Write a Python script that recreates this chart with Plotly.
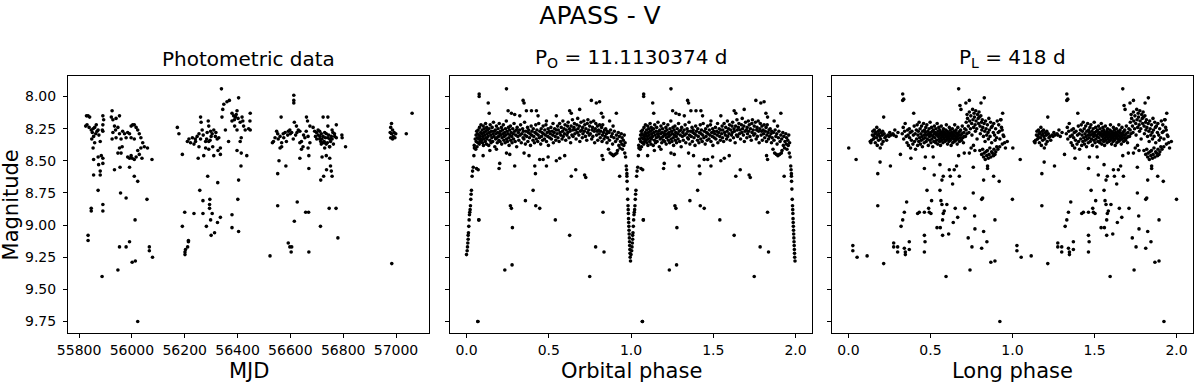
import numpy as np
import plotly.graph_objects as go
from plotly.subplots import make_subplots

# ---- photometric data: MJD vs V magnitude ----
mjd = [
    # first season
    55828, 55834, 55840, 55825, 55830, 55838, 55846, 55853, 55859, 55850,
    55855, 55848, 55863, 55868, 55865, 55872, 55875, 55859, 55853, 55890,
    55893, 55890, 55888, 55890, 55880, 55855, 55872, 55884, 55890, 55874,
    55890, 55855, 55880, 55880, 55872, 55890, 55890, 55846, 55846, 55834,
    55834, 55887,
    55925, 55922, 55928, 55940, 55953, 55934, 55938, 55947, 55928, 55925,
    55940, 55953, 55965, 55972, 55984, 55991, 55959, 55963, 55953, 55947,
    55959, 55978, 55997, 56003, 56009, 56016, 56022, 55997, 56009, 56028,
    56034, 56041, 56047, 56059, 56034, 56022, 56028, 56016, 56009, 56001,
    55991, 55984, 55997, 56038, 56076, 55934, 55955, 55991, 56009, 56022,
    55957, 55978, 56057, 56012, 55953, 55978, 55991, 56066, 56066, 56078,
    56001, 56013, 55947, 56022,
    # second season
    56172, 56178, 56191, 56210, 56216, 56222, 56229, 56235, 56241, 56247,
    56254, 56260, 56262, 56266, 56260, 56254, 56251, 56272, 56279, 56279,
    56289, 56291, 56298, 56304, 56310, 56316, 56323, 56306, 56291, 56329,
    56335, 56326, 56335, 56310, 56291, 56341, 56344, 56348, 56360, 56369,
    56404, 56339, 56354, 56366, 56379, 56385, 56392, 56398, 56379, 56389,
    56398, 56410, 56417, 56423, 56429, 56414, 56414, 56435, 56410, 56287,
    56325, 56257, 56269, 56295, 56294, 56294, 56304, 56200, 56235, 56269,
    56298, 56335, 56324, 56191, 56282, 56313, 56300, 56203, 56201, 56214,
    56214, 56211, 56201, 56379, 56379, 56404, 56401, 56404, 56413, 56398,
    56442, 56448, 56447, 56448, 56270, 56285, 56300, 56318, 56283, 56296,
    56240, 56395, 56388, 56402, 56420,
    # third season
    56523, 56532, 56536, 56542, 56548, 56552, 56554, 56561, 56565, 56567,
    56573, 56580, 56561, 56567, 56557, 56583, 56552, 56552, 56592, 56598,
    56605, 56611, 56615, 56623, 56630, 56636, 56642, 56648, 56636, 56642,
    56661, 56665, 56674, 56667, 56674, 56667, 56670, 56636, 56670, 56613,
    56613, 56613, 56686, 56692, 56699, 56705, 56711, 56717, 56724, 56730,
    56736, 56742, 56749, 56755, 56761, 56767, 56774, 56711, 56724, 56736,
    56749, 56730, 56717, 56742, 56724, 56742, 56774, 56795, 56796, 56809,
    56720, 56736, 56749, 56752, 56755, 56737, 56726, 56715, 56758, 56626,
    56658, 56669, 56747, 56773, 56615, 56714, 56780, 56592, 56598, 56603,
    56670, 56605, 56705, 56712, 56720, 56728, 56733, 56740, 56745, 56752,
    56758, 56763, 56768, 56748, 56730, 56715, 56758, 56700, 56695, 56575,
    56585, 56590, 56600, 56620, 56625, 56650, 56655, 56660,
    # fourth season
    56983, 56980, 56987, 56978, 56993, 56983, 56990, 56980, 56996, 56987,
    56999, 57039, 57061, 56984,
]
mjd_mag = [
    8.15, 8.15, 8.16, 8.23, 8.22, 8.24, 8.26, 8.25, 8.24, 8.28,
    8.31, 8.33, 8.29, 8.27, 8.22, 8.26, 8.30, 8.36, 8.40, 8.15,
    8.18, 8.22, 8.26, 8.27, 8.35, 8.49, 8.47, 8.46, 8.48, 8.53,
    8.52, 8.61, 8.58, 8.61, 8.73, 8.84, 8.89, 8.87, 8.89, 9.08,
    9.12, 9.40,
    8.11, 8.16, 8.18, 8.17, 8.15, 8.23, 8.26, 8.24, 8.28, 8.33,
    8.32, 8.29, 8.27, 8.29, 8.28, 8.29, 8.33, 8.39, 8.40, 8.44,
    8.44, 8.32, 8.23, 8.22, 8.22, 8.24, 8.26, 8.32, 8.33, 8.29,
    8.32, 8.36, 8.39, 8.40, 8.40, 8.42, 8.45, 8.47, 8.49, 8.48,
    8.48, 8.47, 8.46, 8.48, 8.49, 8.57, 8.55, 8.55, 8.62, 8.66,
    8.75, 8.79, 8.80, 8.96, 9.17, 9.17, 9.13, 9.17, 9.20, 9.25,
    9.29, 9.28, 9.35, 9.75,
    8.24, 8.29, 8.45, 8.35, 8.33, 8.36, 8.32, 8.37, 8.35, 8.31,
    8.29, 8.16, 8.20, 8.26, 8.33, 8.39, 8.48, 8.46, 8.35, 8.40,
    8.19, 8.23, 8.27, 8.29, 8.26, 8.31, 8.33, 8.39, 8.35, 8.32,
    8.40, 8.42, 8.45, 8.46, 8.41, 8.16, 8.10, 8.06, 8.04, 8.03,
    8.01, 7.94, 8.26, 8.35, 8.13, 8.15, 8.16, 8.11, 8.19, 8.23,
    8.26, 8.20, 8.16, 8.23, 8.26, 8.32, 8.44, 8.46, 8.35, 8.62,
    8.67, 8.73, 8.81, 8.80, 8.84, 8.87, 8.91, 8.90, 8.91, 8.91,
    8.96, 8.94, 8.98, 9.01, 9.01, 9.06, 9.08, 9.19, 9.21, 9.13,
    9.12, 9.17, 9.23, 8.92, 9.02, 9.05, 8.80, 8.65, 8.54, 8.42,
    8.25, 8.13, 8.19, 8.26, 8.30, 8.28, 8.31, 8.28, 8.33, 8.34,
    8.33, 8.14, 8.18, 8.17, 8.19,
    9.24, 8.36, 8.35, 8.32, 8.27, 8.29, 8.33, 8.31, 8.16, 8.36,
    8.29, 8.28, 8.40, 8.39, 8.50, 8.54, 8.60, 8.85, 8.27, 8.26,
    8.28, 8.33, 8.20, 8.23, 8.26, 8.27, 8.35, 8.39, 8.36, 8.41,
    8.16, 8.19, 8.23, 8.31, 8.36, 8.40, 8.46, 8.48, 8.56, 7.99,
    8.03, 8.05, 8.24, 8.27, 8.28, 8.26, 8.27, 8.29, 8.31, 8.28,
    8.29, 8.32, 8.33, 8.31, 8.28, 8.29, 8.32, 8.33, 8.36, 8.37,
    8.39, 8.40, 8.37, 8.23, 8.16, 8.16, 8.22, 8.30, 8.32, 8.39,
    8.47, 8.46, 8.48, 8.54, 8.58, 8.57, 8.62, 8.65, 8.62, 8.82,
    8.90, 8.90, 8.87, 8.87, 8.97, 9.01, 9.10, 9.14, 9.17, 9.21,
    9.21, 9.17, 8.30, 8.31, 8.33, 8.35, 8.32, 8.36, 8.30, 8.35,
    8.33, 8.37, 8.31, 8.39, 8.36, 8.35, 8.26, 8.33, 8.31, 8.32,
    8.35, 8.30, 8.29, 8.30, 8.28, 8.30, 8.32, 8.27,
    8.21, 8.24, 8.26, 8.28, 8.28, 8.29, 8.31, 8.32, 8.32, 8.33,
    8.29, 8.29, 8.13, 9.30,
]

# ---- folded on the orbital period (one cycle, plotted twice) ----
orb_phase = [
    # ingress / egress of the eclipse
    0.000, 0.004, 0.006, 0.008, 0.010, 0.010, 0.012, 0.014, 0.016, 0.018,
    0.020, 0.022, 0.024, 0.026, 0.028, 0.030, 0.034, 0.037, 0.041, 0.045,
    0.048, 0.061, 0.071, 0.075, 0.069, 0.077, 0.077,
    0.971, 0.973, 0.975, 0.975, 0.976, 0.978, 0.980, 0.982, 0.983, 0.984,
    0.985, 0.986, 0.987, 0.988, 0.989, 0.990, 0.991, 0.992, 0.993, 0.994,
    0.995, 0.997,
    # out of eclipse
    0.047, 0.053, 0.056, 0.058, 0.059, 0.062, 0.064, 0.066, 0.067, 0.069,
    0.071, 0.074, 0.076, 0.078, 0.079, 0.082, 0.083, 0.086, 0.087, 0.088,
    0.091, 0.093, 0.095, 0.097, 0.099, 0.102, 0.104, 0.106, 0.103, 0.108,
    0.111, 0.114, 0.116, 0.118, 0.117, 0.121, 0.123, 0.126, 0.124, 0.128,
    0.131, 0.135, 0.137, 0.139, 0.142, 0.144, 0.147, 0.149, 0.152, 0.154,
    0.156, 0.159, 0.162, 0.164, 0.167, 0.169, 0.172, 0.175, 0.177, 0.180,
    0.182, 0.184, 0.187, 0.189, 0.192, 0.195, 0.197, 0.199, 0.202, 0.204,
    0.207, 0.209, 0.212, 0.214, 0.216, 0.219, 0.222, 0.224, 0.227, 0.229,
    0.232, 0.235, 0.237, 0.239, 0.242, 0.244, 0.247, 0.249, 0.252, 0.255,
    0.257, 0.259, 0.262, 0.264, 0.267, 0.269, 0.272, 0.275, 0.277, 0.281,
    0.284, 0.286, 0.289, 0.293, 0.296, 0.299, 0.303, 0.305, 0.308, 0.312,
    0.315, 0.318, 0.323, 0.326, 0.329, 0.333, 0.336, 0.341, 0.344, 0.346,
    0.349, 0.353, 0.355, 0.358, 0.362, 0.366, 0.371, 0.373, 0.376, 0.378,
    0.383, 0.386, 0.389, 0.393, 0.395, 0.398, 0.404, 0.406, 0.409, 0.413,
    0.416, 0.421, 0.424, 0.426, 0.428, 0.433, 0.436, 0.439, 0.443, 0.446,
    0.451, 0.454, 0.456, 0.459, 0.463, 0.466, 0.468, 0.474, 0.476, 0.479,
    0.483, 0.486, 0.491, 0.494, 0.496, 0.498, 0.503, 0.506, 0.509, 0.513,
    0.516, 0.521, 0.524, 0.526, 0.528, 0.533, 0.536, 0.539, 0.543, 0.546,
    0.551, 0.554, 0.556, 0.558, 0.563, 0.566, 0.569, 0.573, 0.576, 0.581,
    0.584, 0.586, 0.588, 0.593, 0.596, 0.599, 0.603, 0.606, 0.611, 0.614,
    0.616, 0.618, 0.623, 0.626, 0.629, 0.633, 0.636, 0.641, 0.644, 0.646,
    0.648, 0.653, 0.656, 0.659, 0.663, 0.666, 0.671, 0.674, 0.676, 0.678,
    0.683, 0.686, 0.689, 0.693, 0.696, 0.701, 0.704, 0.706, 0.708, 0.713,
    0.716, 0.719, 0.723, 0.726, 0.731, 0.734, 0.736, 0.738, 0.743, 0.746,
    0.749, 0.753, 0.756, 0.761, 0.764, 0.766, 0.768, 0.773, 0.776, 0.779,
    0.783, 0.786, 0.791, 0.794, 0.796, 0.798, 0.803, 0.806, 0.809, 0.813,
    0.816, 0.821, 0.824, 0.826, 0.828, 0.833, 0.836, 0.839, 0.843, 0.846,
    0.851, 0.854, 0.856, 0.858, 0.863, 0.866, 0.869, 0.873, 0.876, 0.881,
    0.884, 0.886, 0.888, 0.893, 0.896, 0.899, 0.903, 0.906, 0.911, 0.914,
    0.916, 0.918, 0.923, 0.926, 0.929, 0.933, 0.936, 0.941, 0.944, 0.946,
    0.948, 0.953, 0.956, 0.959, 0.962, 0.964, 0.967,
    # outliers
    0.243, 0.132, 0.138, 0.344, 0.350, 0.253, 0.273, 0.293, 0.324, 0.364,
    0.395, 0.425, 0.435, 0.486, 0.546, 0.627, 0.637, 0.688, 0.759, 0.789,
    0.809, 0.820, 0.830, 0.870, 0.911, 0.891,
    0.101, 0.142, 0.182, 0.202, 0.198, 0.243, 0.263, 0.293, 0.350, 0.380,
    0.415, 0.419, 0.445, 0.466, 0.486, 0.496, 0.546, 0.567, 0.597, 0.637,
    0.664, 0.725, 0.718, 0.830, 0.824, 0.931, 0.405, 0.358, 0.421, 0.445,
    0.267, 0.273, 0.540, 0.279, 0.627, 0.830, 0.785, 0.836, 0.233, 0.277,
    0.749, 0.069, 0.075,
]
orb_mag = [
    9.23, 9.20, 9.17, 9.14, 9.11, 9.08, 9.06, 9.01, 8.96, 8.92,
    8.90, 8.88, 8.85, 8.80, 8.76, 8.73, 8.62, 8.58, 8.55, 8.46,
    8.40, 8.56, 8.57, 8.96, 9.75, 7.98, 8.00,
    8.54, 8.57, 8.60, 8.62, 8.66, 8.72, 8.80, 8.85, 8.88, 8.91,
    8.95, 8.98, 9.01, 9.04, 9.07, 9.10, 9.13, 9.16, 9.19, 9.22,
    9.25, 9.28,
    8.38, 8.33, 8.41, 8.30, 8.35, 8.27, 8.39, 8.32, 8.29, 8.36,
    8.26, 8.33, 8.30, 8.37, 8.24, 8.31, 8.35, 8.28, 8.33, 8.22,
    8.34, 8.29, 8.26, 8.36, 8.31, 8.23, 8.33, 8.28, 8.38, 8.25,
    8.30, 8.35, 8.21, 8.32, 8.27, 8.37, 8.24, 8.29, 8.33, 8.26,
    8.31, 8.38, 8.25, 8.28, 8.34, 8.22, 8.30, 8.36, 8.27, 8.32,
    8.24, 8.35, 8.29, 8.20, 8.31, 8.27, 8.39, 8.26, 8.33, 8.29,
    8.23, 8.32, 8.36, 8.28, 8.25, 8.31, 8.34, 8.21, 8.29, 8.35,
    8.27, 8.30, 8.24, 8.37, 8.32, 8.26, 8.29, 8.22, 8.34, 8.31,
    8.28, 8.36, 8.25, 8.30, 8.19, 8.33, 8.27, 8.35, 8.29, 8.24,
    8.32, 8.38, 8.26, 8.30, 8.23, 8.34, 8.28, 8.31, 8.36, 8.25,
    8.29, 8.33, 8.21, 8.27, 8.35, 8.30, 8.26, 8.39, 8.24, 8.31,
    8.28, 8.34, 8.26, 8.30, 8.22, 8.36, 8.29, 8.25, 8.32, 8.27,
    8.33, 8.20, 8.30, 8.37, 8.27, 8.31, 8.24, 8.35, 8.28, 8.26,
    8.32, 8.29, 8.38, 8.23, 8.30, 8.27, 8.34, 8.25, 8.31, 8.36,
    8.28, 8.22, 8.33, 8.29, 8.26, 8.35, 8.30, 8.21, 8.32, 8.27,
    8.37, 8.25, 8.31, 8.28, 8.34, 8.23, 8.29, 8.33, 8.26, 8.30,
    8.22, 8.35, 8.28, 8.31, 8.25, 8.38, 8.27, 8.32, 8.29, 8.24,
    8.33, 8.27, 8.30, 8.21, 8.36, 8.28, 8.25, 8.31, 8.34, 8.26,
    8.29, 8.23, 8.32, 8.26, 8.35, 8.21, 8.28, 8.30, 8.24, 8.33,
    8.27, 8.19, 8.31, 8.25, 8.29, 8.22, 8.34, 8.26, 8.30, 8.23,
    8.28, 8.20, 8.32, 8.25, 8.27, 8.36, 8.23, 8.30, 8.18, 8.26,
    8.31, 8.24, 8.21, 8.29, 8.26, 8.33, 8.22, 8.28, 8.17, 8.25,
    8.30, 8.23, 8.35, 8.27, 8.20, 8.26, 8.32, 8.24, 8.29, 8.19,
    8.27, 8.22, 8.31, 8.25, 8.34, 8.21, 8.28, 8.18, 8.26, 8.30,
    8.23, 8.29, 8.20, 8.33, 8.26, 8.24, 8.31, 8.19, 8.27, 8.36,
    8.25, 8.21, 8.30, 8.27, 8.23, 8.34, 8.26, 8.29, 8.22, 8.32,
    8.27, 8.24, 8.35, 8.30, 8.22, 8.28, 8.33, 8.26, 8.31, 8.25,
    8.29, 8.36, 8.27, 8.32, 8.41, 8.28, 8.34, 8.44, 8.26, 8.31,
    8.45, 8.29, 8.37, 8.46, 8.32, 8.27, 8.45, 8.35, 8.30, 8.44,
    8.33, 8.42, 8.28, 8.38, 8.31, 8.40, 8.35, 8.29, 8.37, 8.32,
    8.41, 8.34, 8.38, 8.30, 8.44, 8.36, 8.47,
    7.94, 8.05, 8.13, 8.03, 8.05, 8.11, 8.13, 8.14, 8.15, 8.11,
    8.11, 8.11, 8.15, 8.19, 8.15, 8.11, 8.13, 8.10, 8.03, 8.05,
    8.04, 8.13, 8.16, 8.19, 8.13, 8.23,
    8.46, 8.42, 8.41, 8.52, 8.56, 8.44, 8.45, 8.54, 8.44, 8.46,
    8.54, 8.60, 8.49, 8.49, 8.54, 8.47, 8.50, 8.48, 8.46, 8.62,
    8.57, 8.63, 8.61, 8.49, 8.46, 8.62, 8.73, 8.81, 8.85, 8.87,
    8.85, 8.87, 8.96, 9.02, 9.08, 8.90, 9.17, 9.21, 9.35, 9.31,
    9.40, 9.75, 8.96,
]

# ---- folded on the long period (one cycle, plotted twice) ----
long_phase = [
    # scattered points
    0.002, 0.047, 0.027, 0.027, 0.053, 0.114, 0.215, 0.179, 0.179, 0.193,
    0.256, 0.317, 0.331, 0.337, 0.331, 0.215, 0.355, 0.341, 0.331, 0.321,
    0.276, 0.276, 0.300, 0.300, 0.341, 0.347, 0.347, 0.371, 0.371, 0.381,
    0.398, 0.422, 0.432, 0.463, 0.463, 0.467, 0.463, 0.463, 0.469, 0.479,
    0.489, 0.493, 0.503, 0.507, 0.517, 0.523, 0.540, 0.560, 0.558, 0.564,
    0.570, 0.574, 0.578, 0.574, 0.570, 0.578, 0.558, 0.584, 0.600, 0.595,
    0.611, 0.615, 0.621, 0.635, 0.645, 0.639, 0.651, 0.659, 0.666, 0.676,
    0.672, 0.706, 0.710, 0.730, 0.737, 0.741, 0.753, 0.761, 0.761, 0.769,
    0.771, 0.812, 0.824, 0.818, 0.824, 0.812, 0.844, 0.848, 0.848, 0.868,
    0.893, 0.893, 0.885, 0.919, 0.923, 0.9995,
    0.672, 0.680, 0.686, 0.716, 0.737, 0.808, 0.828, 0.940, 0.930,
    # first clump
    0.133, 0.137, 0.141, 0.146, 0.149, 0.153, 0.156, 0.158, 0.162, 0.164,
    0.167, 0.171, 0.173, 0.176, 0.178, 0.181, 0.184, 0.186, 0.189, 0.192,
    0.194, 0.197, 0.201, 0.204, 0.207, 0.209, 0.212, 0.218, 0.222, 0.228,
    0.233, 0.241, 0.247, 0.252, 0.259, 0.271, 0.276, 0.283, 0.291, 0.302,
    # main clump
    0.328, 0.334, 0.337, 0.343, 0.346, 0.352, 0.357, 0.361, 0.364, 0.366,
    0.371, 0.373, 0.377, 0.379, 0.384, 0.387, 0.393, 0.396, 0.401, 0.403,
    0.407, 0.409, 0.414, 0.416, 0.419, 0.422, 0.424, 0.426, 0.429, 0.431,
    0.434, 0.437, 0.439, 0.442, 0.444, 0.446, 0.448, 0.451, 0.453, 0.456,
    0.458, 0.461, 0.462, 0.464, 0.467, 0.469, 0.472, 0.474, 0.476, 0.478,
    0.481, 0.484, 0.487, 0.489, 0.492, 0.494, 0.496, 0.498, 0.501, 0.503,
    0.505, 0.507, 0.509, 0.512, 0.514, 0.516, 0.518, 0.521, 0.522, 0.524,
    0.527, 0.529, 0.532, 0.534, 0.536, 0.538, 0.541, 0.542, 0.544, 0.546,
    0.548, 0.551, 0.553, 0.555, 0.556, 0.557, 0.559, 0.561, 0.562, 0.564,
    0.566, 0.568, 0.571, 0.573, 0.575, 0.576, 0.577, 0.579, 0.581, 0.582,
    0.584, 0.586, 0.588, 0.591, 0.593, 0.595, 0.596, 0.597, 0.599, 0.601,
    0.602, 0.604, 0.606, 0.608, 0.611, 0.613, 0.615, 0.616, 0.617, 0.619,
    0.621, 0.622, 0.624, 0.626, 0.628, 0.631, 0.633, 0.635, 0.636, 0.638,
    0.641, 0.643, 0.645, 0.646, 0.648, 0.651, 0.653, 0.655, 0.656, 0.658,
    0.661, 0.663, 0.665, 0.667, 0.669, 0.672, 0.674, 0.677, 0.679, 0.682,
    0.684, 0.687, 0.689, 0.692, 0.694, 0.697, 0.701, 0.703, 0.707, 0.709,
    0.713, 0.717, 0.722,
    # bright wing
    0.718, 0.723, 0.726, 0.731, 0.734, 0.737, 0.739, 0.744, 0.746, 0.751,
    0.753, 0.757, 0.759, 0.763, 0.766, 0.768, 0.772, 0.774, 0.776, 0.778,
    0.782, 0.784, 0.787, 0.791, 0.793, 0.796, 0.798, 0.802, 0.804, 0.807,
    0.811, 0.813, 0.816, 0.819, 0.823, 0.827, 0.831, 0.833, 0.836, 0.839,
    0.843, 0.847, 0.851, 0.853, 0.856, 0.859, 0.863, 0.867, 0.871, 0.873,
    0.877, 0.883, 0.886, 0.891, 0.894, 0.897, 0.903, 0.907, 0.913, 0.916,
    0.921, 0.923, 0.927, 0.933, 0.937, 0.943, 0.947, 0.952,
    # faint wing
    0.801, 0.812, 0.818, 0.824, 0.827, 0.834, 0.838, 0.843, 0.847, 0.853,
    0.857, 0.862, 0.868, 0.873, 0.877, 0.884, 0.887, 0.893, 0.898, 0.904,
    0.911, 0.922, 0.938, 0.957, 0.968, 0.762, 0.771, 0.748,
]
long_mag = [
    8.40, 8.49, 9.16, 9.20, 9.25, 9.24, 9.30, 8.85, 8.60, 8.51,
    8.54, 8.45, 8.03, 8.02, 7.98, 8.16, 8.82, 8.90, 8.96, 9.01,
    9.14, 9.17, 9.17, 9.21, 9.18, 9.21, 9.23, 9.13, 9.19, 8.48,
    8.13, 8.91, 8.90, 8.90, 9.08, 9.13, 9.21, 8.56, 8.47, 8.73,
    8.87, 8.90, 8.91, 8.81, 8.47, 8.61, 9.02, 9.02, 8.73, 8.81,
    8.84, 8.96, 8.91, 9.08, 8.65, 8.62, 8.53, 8.89, 8.84, 9.40,
    9.07, 8.57, 8.62, 8.68, 8.57, 8.98, 8.87, 8.54, 8.94, 8.62,
    8.46, 8.44, 8.87, 9.10, 8.44, 9.35, 9.17, 8.75, 8.55, 8.93,
    9.03, 8.80, 8.65, 8.79, 9.05, 9.18, 9.13, 8.54, 8.56, 9.29,
    9.28, 8.96, 8.62, 8.66, 9.75, 8.80,
    7.94, 8.07, 8.10, 8.05, 8.03, 8.05, 8.01, 8.13, 8.18,
    8.35, 8.36, 8.34, 8.30, 8.27, 8.33, 8.31, 8.26, 8.29, 8.36,
    8.28, 8.32, 8.24, 8.38, 8.30, 8.27, 8.34, 8.29, 8.26, 8.31,
    8.40, 8.33, 8.28, 8.37, 8.30, 8.27, 8.35, 8.29, 8.32, 8.31,
    8.34, 8.30, 8.31, 8.28, 8.30, 8.29, 8.30, 8.26, 8.31, 8.28,
    8.29, 8.24, 8.33, 8.27, 8.21, 8.31, 8.36, 8.26, 8.30, 8.38,
    8.25, 8.32, 8.28, 8.40, 8.34, 8.27, 8.37, 8.30, 8.23, 8.35,
    8.29, 8.41, 8.26, 8.33, 8.22, 8.38, 8.30, 8.27, 8.35, 8.20,
    8.32, 8.25, 8.37, 8.29, 8.34, 8.23, 8.31, 8.39, 8.27, 8.33,
    8.21, 8.30, 8.36, 8.26, 8.32, 8.28, 8.24, 8.35, 8.30, 8.22,
    8.33, 8.27, 8.38, 8.29, 8.25, 8.31, 8.34, 8.20, 8.28, 8.36,
    8.30, 8.24, 8.33, 8.27, 8.39, 8.31, 8.26, 8.35, 8.29, 8.23,
    8.32, 8.28, 8.36, 8.25, 8.30, 8.34, 8.21, 8.29, 8.37, 8.27,
    8.31, 8.24, 8.33, 8.29, 8.35, 8.26, 8.30, 8.38, 8.28, 8.32,
    8.23, 8.34, 8.29, 8.31, 8.27, 8.36, 8.30, 8.25, 8.33, 8.29,
    8.32, 8.28, 8.35, 8.30, 8.26, 8.34, 8.31, 8.22, 8.29, 8.33,
    8.27, 8.37, 8.30, 8.32, 8.28, 8.35, 8.24, 8.31, 8.33, 8.29,
    8.26, 8.34, 8.30, 8.38, 8.28, 8.32, 8.25, 8.31, 8.36, 8.29,
    8.33, 8.27, 8.30, 8.35, 8.22, 8.31, 8.28, 8.34, 8.26, 8.32,
    8.29, 8.37, 8.31, 8.24, 8.33, 8.28, 8.30, 8.35, 8.27, 8.32,
    8.26, 8.30, 8.34, 8.29, 8.23, 8.32, 8.36, 8.28, 8.31, 8.25,
    8.31, 8.26, 8.29,
    8.20, 8.14, 8.17, 8.23, 8.28, 8.12, 8.19, 8.25, 8.15, 8.21,
    8.30, 8.10, 8.18, 8.24, 8.13, 8.16, 8.22, 8.27, 8.11, 8.19,
    8.25, 8.33, 8.14, 8.17, 8.21, 8.12, 8.16, 8.23, 8.29, 8.15,
    8.20, 8.26, 8.18, 8.24, 8.31, 8.21, 8.27, 8.35, 8.19, 8.25,
    8.30, 8.22, 8.28, 8.33, 8.17, 8.26, 8.31, 8.20, 8.24, 8.36,
    8.23, 8.28, 8.21, 8.30, 8.34, 8.25, 8.32, 8.19, 8.28, 8.22,
    8.27, 8.33, 8.18, 8.24, 8.26, 8.30, 8.31, 8.36,
    8.42, 8.45, 8.41, 8.47, 8.44, 8.49, 8.43, 8.46, 8.42, 8.48,
    8.45, 8.40, 8.47, 8.43, 8.44, 8.46, 8.41, 8.45, 8.43, 8.39,
    8.41, 8.39, 8.37, 8.40, 8.35, 8.38, 8.42, 8.40,
]

assert len(mjd) == len(mjd_mag)
assert len(orb_phase) == len(orb_mag)
assert len(long_phase) == len(long_mag)

titles = ["Photometric data", "P<sub>O</sub> = 11.1130374 d", "P<sub>L</sub> = 418 d"]
x_titles = ["MJD", "Orbital phase", "Long phase"]
mag_ticks = [8.00, 8.25, 8.50, 8.75, 9.00, 9.25, 9.50, 9.75]
mjd_ticks = [55800, 56000, 56200, 56400, 56600, 56800, 57000]
phase_ticks = [0.0, 0.5, 1.0, 1.5, 2.0]

FONT = "DejaVu Sans"

fig = make_subplots(rows=1, cols=3, shared_yaxes=True)

dot = dict(color="black", size=3.6, line=dict(width=0))

fig.add_trace(go.Scatter(x=mjd, y=mjd_mag, mode="markers", marker=dot), row=1, col=1)

# each phase diagram shows the folded cycle twice (phase and phase + 1)
op = np.array(orb_phase)
fig.add_trace(go.Scatter(x=np.concatenate([op, op + 1]), y=orb_mag + orb_mag,
                         mode="markers", marker=dot), row=1, col=2)

lp = np.array(long_phase)
fig.add_trace(go.Scatter(x=np.concatenate([lp, lp + 1]), y=long_mag + long_mag,
                         mode="markers", marker=dot), row=1, col=3)

axis_style = dict(showline=True, mirror=True, linecolor="black", linewidth=1,
                  ticks="outside", ticklen=4, tickwidth=1, tickcolor="black",
                  showgrid=False, zeroline=False,
                  tickfont=dict(family=FONT, size=14, color="black"))

domains = [[0.0, 0.3209], [0.3396, 0.6613], [0.6791, 1.0]]
for i in range(3):
    fig.update_xaxes(domain=domains[i], row=1, col=i + 1, **axis_style)
    fig.update_yaxes(row=1, col=i + 1, range=[9.84, 7.84], tickvals=mag_ticks,
                     tickformat=".2f", showticklabels=(i == 0), **axis_style)
fig.update_yaxes(ticklabelstandoff=4, row=1, col=1)

fig.update_xaxes(range=[55758, 57125], tickvals=mjd_ticks, tickformat="d", row=1, col=1)
fig.update_xaxes(range=[-0.1, 2.1], tickvals=phase_ticks, tickformat=".1f", row=1, col=2)
fig.update_xaxes(range=[-0.1, 2.1], tickvals=phase_ticks, tickformat=".1f", row=1, col=3)

# subplot titles and axis labels
for i in range(3):
    cx = (domains[i][0] + domains[i][1]) / 2
    fig.add_annotation(text=titles[i], x=cx, y=1, xref="paper", yref="paper",
                       xanchor="center", yanchor="bottom", yshift=3, showarrow=False,
                       font=dict(family=FONT, size=20, color="black"))
    fig.add_annotation(text=x_titles[i], x=cx, y=-0.148, xref="paper", yref="paper",
                       xanchor="center", yanchor="middle", showarrow=False,
                       font=dict(family=FONT, size=21, color="black"))

fig.add_annotation(text="Magnitude", x=-0.0507, y=0.5, xref="paper", yref="paper",
                   xanchor="center", yanchor="middle", textangle=-90, showarrow=False,
                   font=dict(family=FONT, size=21, color="black"))

fig.update_layout(
    title=dict(text="APASS - V", x=0.5, xref="container", y=1 - 15 / 383,
               yref="container", xanchor="center", yanchor="middle",
               font=dict(family=FONT, size=25, color="black")),
    width=1200, height=383,
    margin=dict(l=68, r=7, t=76, b=50),
    plot_bgcolor="white", paper_bgcolor="white",
    showlegend=False,
)

# drop the browser's default page margin so the figure sits at the top-left corner
fig.write_html("out.html", config={"displayModeBar": False},
               post_script="document.body.style.margin = '0px';")
